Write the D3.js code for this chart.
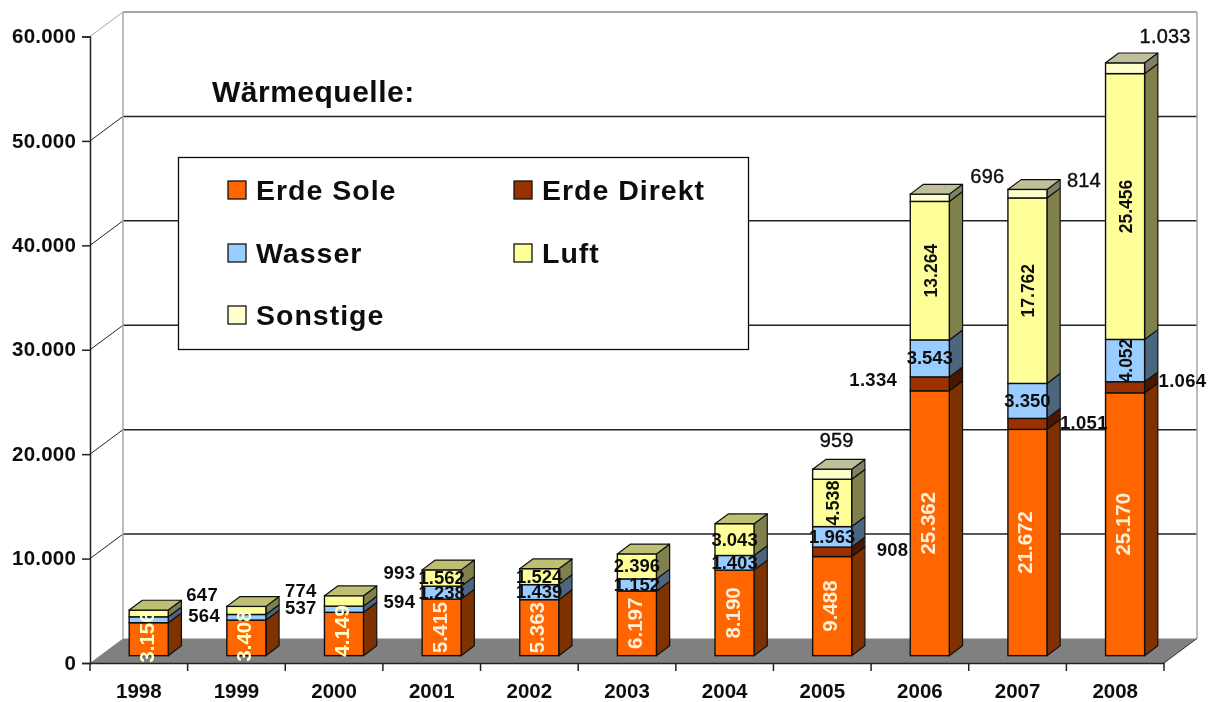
<!DOCTYPE html>
<html><head><meta charset="utf-8">
<script src="https://cdn.jsdelivr.net/npm/d3@7/dist/d3.min.js"></script>
<style>html,body{margin:0;padding:0;background:#fff}svg{display:block}text{font-family:"Liberation Sans",Arial,sans-serif}</style>
</head><body><svg id="c" width="1212" height="702"></svg>
<script>
const years=["1998","1999","2000","2001","2002","2003","2004","2005","2006","2007","2008"];
const seriesNames=["Erde Sole","Erde Direkt","Wasser","Luft","Sonstige"];
const erdeSole=[3156,3408,4149,5415,5363,6197,8190,9488,25362,21672,25170];
const erdeDirekt=[0,0,0,0,0,0,0,908,1334,1051,1064];
const wasser=[564,537,594,1238,1439,1152,1403,1963,3543,3350,4052];
const luft=[647,774,993,1562,1524,2396,3043,4538,13264,17762,25456];
const sonstige=[0,0,0,0,0,0,0,959,696,814,1033];
const yTicks=[0,10000,20000,30000,40000,50000,60000];
const legendTitle="Wärmequelle:";

const seriesValues=[erdeSole,erdeDirekt,wasser,luft,sonstige];
const faceColors=["#FF6600","#993300","#99CCFF","#FFFF99","#FFFFCC"];
const sideColors=["#7F3300","#4C1900","#4D6680","#80804D","#808066"];
const topColors=["#BF4C00","#732600","#7399BF","#BFBF73","#BFBF99"];

const fmt=v=>v>=1000?Math.floor(v/1000)+"."+String(v%1000).padStart(3,"0"):String(v);
const svg=d3.select("#c");
const defs=svg.append("defs");
defs.append("filter").attr("id","soft").attr("x","-5%").attr("y","-5%").attr("width","110%").attr("height","110%")
  .append("feGaussianBlur").attr("stdDeviation",0.45);
const root=svg.append("g").attr("filter","url(#soft)");

const x=d3.scaleBand().domain(years).range([90,1164]).paddingInner(0.6).paddingOuter(0.3);
const y=d3.scaleLinear().domain([0,60000]).range([663,36.5]);
const wallDx=33, wallDy=-24.5;
const x0=x.range()[0], x1=x.range()[1];
const frontDx=wallDx*0.3, frontDy=wallDy*0.3, depthDx=wallDx*0.4, depthDy=wallDy*0.4;
const poly=pts=>pts.map(p=>p.join(",")).join(" ");

// walls and gridlines
yTicks.forEach(t=>{
  const yy=y(t);
  if(t===0) return;
  const col=t===60000?"#a6a6a6":"#222";
  root.append("line").attr("x1",x0).attr("y1",yy).attr("x2",x0+wallDx).attr("y2",yy+wallDy).attr("stroke",col).attr("stroke-width",1);
  root.append("line").attr("x1",x0+wallDx).attr("y1",yy+wallDy).attr("x2",x1+wallDx).attr("y2",yy+wallDy).attr("stroke",col).attr("stroke-width",t===60000?2:1.5);
});
root.append("polygon").attr("points",poly([[x0,y(0)],[x0+wallDx,y(0)+wallDy],[x1+wallDx,y(0)+wallDy],[x1,y(0)]])).attr("fill","#808080");
root.append("line").attr("x1",x0+wallDx).attr("y1",y(60000)+wallDy).attr("x2",x0+wallDx).attr("y2",y(0)+wallDy).attr("stroke","#a6a6a6").attr("stroke-width",1.5);
root.append("line").attr("x1",x1+wallDx).attr("y1",y(60000)+wallDy).attr("x2",x1+wallDx).attr("y2",y(0)+wallDy).attr("stroke","#a6a6a6").attr("stroke-width",1.5);
root.append("line").attr("x1",x1).attr("y1",y(0)).attr("x2",x1+wallDx).attr("y2",y(0)+wallDy).attr("stroke","#333").attr("stroke-width",1);

// axes
const yAxis=d3.axisLeft(y).tickValues(yTicks).tickSize(8).tickPadding(6).tickFormat(d=>d===0?"0":fmt(d));
const gy=root.append("g").attr("transform",`translate(${x0},0)`).call(yAxis);
gy.selectAll("path,line").attr("stroke","#222").attr("stroke-width",1.5);
gy.selectAll("text").attr("font-size",20.5).attr("font-weight","bold").attr("letter-spacing",0.2).attr("fill","#111").attr("font-family","Liberation Sans").attr("dy","0.3em");
const xAxis=d3.axisBottom(d3.scaleBand().domain(years).range([x0,x1])).tickSize(0).tickPadding(20);
const gx=root.append("g").attr("transform",`translate(0,${y(0)})`).call(xAxis);
gx.selectAll("path").attr("stroke","#222").attr("stroke-width",1.5);
gx.selectAll("line").remove();
gx.selectAll("text").attr("font-size",20.5).attr("font-weight","bold").attr("fill","#111").attr("font-family","Liberation Sans");
const xStep=(x1-x0)/years.length;
root.selectAll("line.xt").data(d3.range(years.length+1)).join("line").attr("class","xt")
  .attr("x1",i=>x0+i*xStep).attr("x2",i=>x0+i*xStep).attr("y1",y(0)).attr("y2",y(0)+8).attr("stroke","#222").attr("stroke-width",1.5);

// bars
const barLeft=yr=>x(yr)+frontDx;
const bw=x.bandwidth();
const stroke="#111";
const stacks=years.map((yr,i)=>{let c=0;return seriesValues.map((s,k)=>{const a=c;c+=s[i];return {yr,i,k,a,b:c,v:s[i]};}).filter(d=>d.v>0);});
const py=v=>y(v)+frontDy;
const barG=root.selectAll("g.bar").data(stacks).join("g").attr("class","bar");
barG.each(function(segs){
  const g=d3.select(this);
  segs.forEach(d=>{
    const l=barLeft(d.yr), r=l+bw;
    g.append("polygon").attr("points",poly([[r,py(d.a)],[r+depthDx,py(d.a)+depthDy],[r+depthDx,py(d.b)+depthDy],[r,py(d.b)]]))
      .attr("fill",sideColors[d.k]).attr("stroke",stroke).attr("stroke-width",1.2).attr("stroke-linejoin","round");
    g.append("rect").attr("x",l).attr("y",py(d.b)).attr("width",bw).attr("height",py(d.a)-py(d.b))
      .attr("fill",faceColors[d.k]).attr("stroke",stroke).attr("stroke-width",1.4);
  });
  const d=segs[segs.length-1], l=barLeft(d.yr), r=l+bw, t=py(d.b);
  g.append("polygon").attr("points",poly([[l,t],[l+depthDx,t+depthDy],[r+depthDx,t+depthDy],[r,t]]))
    .attr("fill",topColors[d.k]).attr("stroke",stroke).attr("stroke-width",1.2).attr("stroke-linejoin","round");
});

// label placement, separate from the data: rotated labels run along the bar
const rotatedLuft=new Set(["2005","2006","2007","2008"]);
const rotatedWasser=new Set(["2008"]);
// labels set beside the bars: series index, year index, offset from the segment's right front edge
const sideLabels=[
 [3,0,18,-12,"s"],[2,0,20,2,"s"],
 [3,1,19,-13,"s"],[2,1,19,-3,"s"],
 [3,2,20,-22,"s"],[2,2,20,-1,"s"],
 [4,7,-32,-27,"a"],[1,7,25,4,"s"],
 [1,8,-100,2,"s"],[4,8,21,-15,"a"],
 [1,9,13,5,"s"],[4,9,20,-7,"a"],
 [1,10,14,0,"s"],[4,10,-5,-25,"a"]
];
const sideSet=new Set(sideLabels.map(d=>d[0]+"_"+d[1]));
const labels=root.append("g");
stacks.forEach(segs=>segs.forEach(d=>{
  const cx=barLeft(d.yr)+bw/2, cy=(py(d.a)+py(d.b))/2;
  if(sideSet.has(d.k+"_"+d.i)) return;
  if(d.k===0){
    const small=d.i<3;
    labels.append("text").attr("transform",`translate(${cx+5},${small?py(0)+(d.i===2?1:(d.i===0?7:6)):cy}) rotate(-90)`)
      .attr("text-anchor",small?"start":"middle").attr("font-size",20.5).attr("font-weight","bold")
      .attr("fill",small?"#FFFFCC":"#FFEFD8").text(fmt(d.v));
  } else if((d.k===3&&rotatedLuft.has(d.yr))||(d.k===2&&rotatedWasser.has(d.yr))){
    const serif=d.yr==="2005";
    labels.append("text").attr("transform",`translate(${cx+7},${cy}) rotate(-90)`)
      .attr("text-anchor","middle").attr("font-size",serif?18:17.5).attr("font-weight","bold")
      .attr("font-family",serif?"Liberation Serif":"Liberation Sans").attr("fill","#111").text(fmt(d.v));
  } else {
    labels.append("text").attr("x",cx).attr("y",cy+6).attr("text-anchor","middle").attr("font-size",18.5).attr("font-weight","bold")
      .attr("font-family","Liberation Serif").attr("fill","#111").text(fmt(d.v));
  }
}));
sideLabels.forEach(([k,i,dx,dy,f])=>{
  const yr=years[i], v=seriesValues[k][i];
  const a=d3.sum(seriesValues.slice(0,k),s=>s[i]);
  const sans=f==="a";
  labels.append("text").attr("x",barLeft(yr)+bw+dx).attr("y",(py(a)+py(a+v))/2+dy)
    .attr("font-size",sans?20:18.5).attr("font-weight",sans?"normal":"bold").attr("letter-spacing",sans?0.2:0.3)
    .attr("stroke",sans?"#111":"none").attr("stroke-width",sans?0.4:0)
    .attr("font-family",sans?"Liberation Sans":"Liberation Serif").attr("fill","#111").text(fmt(v));
});

// title and legend
root.append("text").attr("x",212).attr("y",102).attr("font-size",30).attr("font-weight","bold").attr("letter-spacing",0.5).attr("fill","#111").text(legendTitle);
root.append("rect").attr("x",178.5).attr("y",157.5).attr("width",570).attr("height",192).attr("fill","#fff").attr("stroke","#111").attr("stroke-width",1.3);
const legendCols=[228,514], legendRows=[190,253,315];
seriesNames.forEach((n,k)=>{
  const lx=legendCols[k%2], ly=legendRows[Math.floor(k/2)];
  root.append("rect").attr("x",lx).attr("y",ly-9).attr("width",18).attr("height",18).attr("fill",faceColors[k]).attr("stroke","#111").attr("stroke-width",1.3);
  root.append("text").attr("x",lx+28).attr("y",ly+9.5).attr("font-size",28.5).attr("font-weight","bold").attr("letter-spacing",1).attr("fill","#111").text(n);
});
</script></body></html>
